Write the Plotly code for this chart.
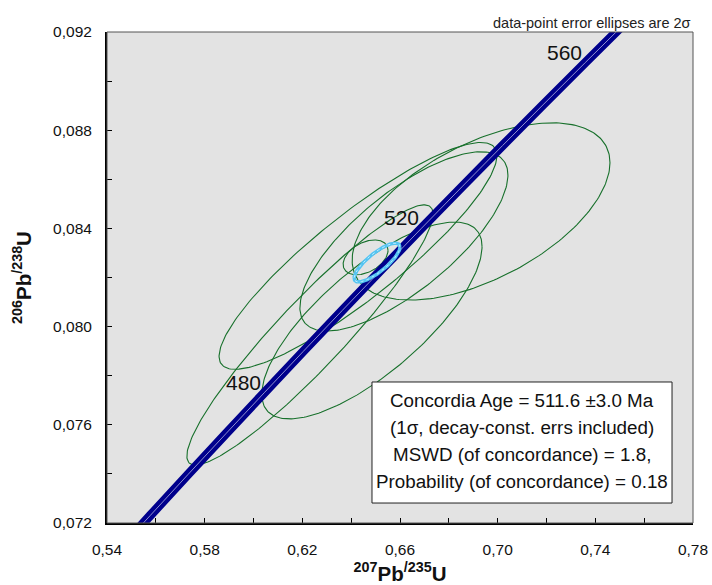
import numpy as np
import plotly.graph_objects as go

# ---------------- data ----------------
# Concordia curve (age in Ma, 207Pb/235U, 206Pb/238U)
concordia_age_ma = [440, 450, 460, 470, 480, 490, 500, 510, 520, 530, 540, 550, 560, 570, 580]
concordia_207_235 = [0.54239, 0.55766, 0.57307, 0.58864, 0.60437, 0.62024, 0.63628, 0.65247,
                     0.66883, 0.68535, 0.70203, 0.71887, 0.73588, 0.75306, 0.77041]
concordia_206_238 = [0.070638, 0.072300, 0.073965, 0.075632, 0.077302, 0.078975, 0.080650, 0.082327,
                     0.084008, 0.085691, 0.087376, 0.089064, 0.090755, 0.092448, 0.094144]
age_labels = [480, 520, 560]

# Data-point error ellipses (2 sigma): centre, half-extent in x and y, correlation
pt_207_235 = [0.6932, 0.6428, 0.6485, 0.6616, 0.6231, 0.6459]
pt_206_238 = [0.08469, 0.08288, 0.08025, 0.08347, 0.07966, 0.08282]
pt_err_x = [0.0528, 0.0569, 0.0451, 0.0426, 0.0504, 0.0092]
pt_err_y = [0.00361, 0.00462, 0.00401, 0.00365, 0.00530, 0.00071]
pt_rho = [0.55, 0.885, 0.75, 0.74, 0.93, 0.40]

# Concordia age ellipse
conc_x, conc_y = 0.6506, 0.08261
conc_err_x, conc_err_y, conc_rho = 0.0094, 0.00079, 0.80

info_lines = ["Concordia Age = 511.6 ±3.0 Ma",
              "(1σ, decay-const. errs included)",
              "MSWD (of concordance) = 1.8,",
              "Probability (of concordance) = 0.18"]

x_ticks = [0.54, 0.58, 0.62, 0.66, 0.70, 0.74, 0.78]
y_ticks = [0.072, 0.076, 0.080, 0.084, 0.088, 0.092]

FONT = "Liberation Sans, Arial, sans-serif"


def ellipse(cx, cy, ax, by, rho, n=240):
    t = np.linspace(0, 2 * np.pi, n)
    xs = cx + ax * np.cos(t)
    ys = cy + by * (rho * np.cos(t) + np.sqrt(1 - rho ** 2) * np.sin(t))
    return xs, ys


fig = go.Figure()

# green error ellipses
for i in range(len(pt_207_235)):
    ex, ey = ellipse(pt_207_235[i], pt_206_238[i], pt_err_x[i], pt_err_y[i], pt_rho[i])
    fig.add_trace(go.Scatter(x=ex, y=ey, mode="lines",
                             line=dict(color="#17702b", width=1.1),
                             hoverinfo="skip", showlegend=False))

# concordia band
fig.add_trace(go.Scatter(x=concordia_207_235, y=concordia_206_238, mode="lines",
                         line=dict(color="#00008c", width=9, shape="spline"),
                         hoverinfo="skip", showlegend=False))
fig.add_trace(go.Scatter(x=concordia_207_235, y=concordia_206_238, mode="lines",
                         line=dict(color="#8f8fd0", width=1, shape="spline"),
                         hoverinfo="skip", showlegend=False))

# concordia age ellipse
cx_, cy_ = ellipse(conc_x, conc_y, conc_err_x, conc_err_y, conc_rho)
fig.add_trace(go.Scatter(x=cx_, y=cy_, mode="lines",
                         line=dict(color="#55c4f2", width=3.5),
                         hoverinfo="skip", showlegend=False))
fig.add_trace(go.Scatter(x=cx_, y=cy_, mode="lines",
                         line=dict(color="#bfeeff", width=1, dash="dot"),
                         hoverinfo="skip", showlegend=False))

# age labels on the concordia
for age in age_labels:
    k = concordia_age_ma.index(age)
    fig.add_annotation(x=concordia_207_235[k], y=concordia_206_238[k], text=str(age),
                       showarrow=False, xanchor="right", yanchor="bottom",
                       xshift=-1, yshift=-3,
                       font=dict(family=FONT, size=21, color="#111"))

# info box
fig.add_shape(type="rect", xref="paper", yref="paper",
              x0=0.4522, x1=0.9642, y0=0.0407, y1=0.2872,
              line=dict(color="#222", width=1), fillcolor="white", layer="above")
for i, (line, yy) in enumerate(zip(info_lines, [0.2505, 0.1955, 0.1385, 0.0855])):
    fig.add_annotation(x=0.7082, y=yy, xref="paper", yref="paper", text=line,
                       showarrow=False, xanchor="center", yanchor="middle",
                       font=dict(family=FONT, size=18.8, color="#111"))

# top-right note
fig.add_annotation(x=1.0, y=1.018, xref="paper", yref="paper",
                   text="data-point error ellipses are 2σ", showarrow=False,
                   xanchor="right", yanchor="middle",
                   font=dict(family=FONT, size=14.5, color="#222"))

# plot border (top/right grey)
fig.add_shape(type="rect", xref="paper", yref="paper", x0=0, x1=1, y0=0, y1=1,
              line=dict(color="#555", width=1), layer="above")

fig.update_layout(
    width=712, height=585,
    margin=dict(l=107, r=19, t=32, b=62, autoexpand=False),
    paper_bgcolor="white", plot_bgcolor="#e3e3e3",
    separators=", ",
    font=dict(family=FONT, size=15, color="#111"),
    showlegend=False,
)
fig.update_xaxes(range=[0.54, 0.78], tickvals=x_ticks, tickformat=".2f",
                 showgrid=False, zeroline=False, automargin=False,
                 showline=True, linecolor="black", linewidth=2,
                 ticks="inside", ticklen=5, tickcolor="black",
                 minor=dict(dtick=0.02, tick0=0.54, ticks="inside", ticklen=5, tickcolor="black"),
                 tickfont=dict(size=15.5, family=FONT),
                 ticklabelstandoff=11,
                 title=dict(text="<b><sup>207</sup>Pb<sup>/235</sup>U</b>",
                            font=dict(size=20.5, family=FONT), standoff=24))
fig.update_yaxes(range=[0.072, 0.092], tickvals=y_ticks, tickformat=".3f",
                 showgrid=False, zeroline=False, automargin=False,
                 showline=True, linecolor="black", linewidth=2,
                 ticks="inside", ticklen=5, tickcolor="black",
                 minor=dict(dtick=0.002, tick0=0.072, ticks="inside", ticklen=5, tickcolor="black"),
                 tickfont=dict(size=15.5, family=FONT),
                 ticklabelstandoff=10,
                 title=dict(text="<b><sup>206</sup>Pb<sup>/238</sup>U</b>",
                            font=dict(size=20.5, family=FONT), standoff=16))

fig.write_html("out.html", config={"displayModeBar": False},
               post_script="document.body.style.margin='0px';")
